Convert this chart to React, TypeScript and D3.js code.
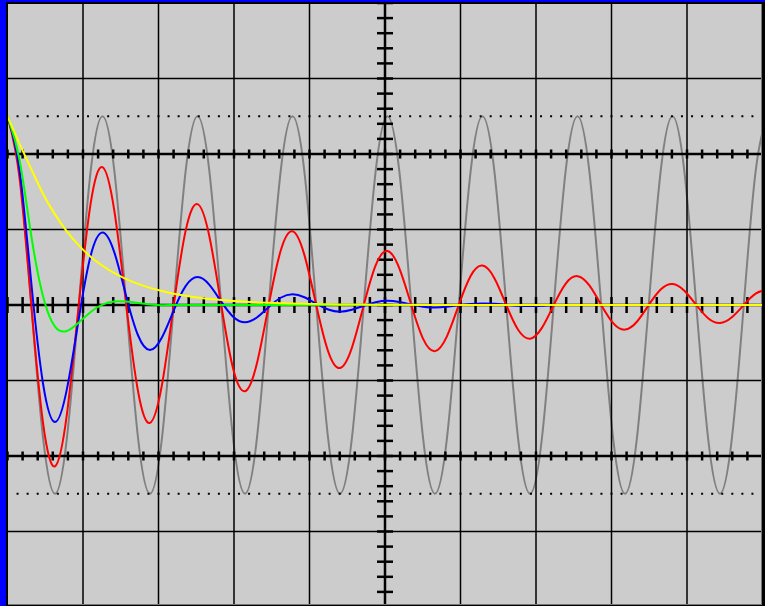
import React from 'react'
import * as d3 from 'd3'

// sample instants in screen divisions (one every eighth of the undamped period)
const times = [
  0, 0.157, 0.315, 0.472, 0.629, 0.786, 0.944, 1.101, 1.258, 1.416, 1.573, 1.73, 1.887, 2.045, 2.202, 2.359,
  2.517, 2.674, 2.831, 2.988, 3.146, 3.303, 3.46, 3.618, 3.775, 3.932, 4.089, 4.247, 4.404, 4.561, 4.719, 4.876,
  5.033, 5.19, 5.348, 5.505, 5.662, 5.82, 5.977, 6.134, 6.291, 6.449, 6.606, 6.763, 6.921, 7.078, 7.235, 7.392,
  7.55, 7.707, 7.864, 8.022, 8.179, 8.336, 8.493, 8.651, 8.808, 8.965, 9.123, 9.28, 9.437, 9.594, 9.752, 9.909,
  10.066
]

// trace values in vertical divisions
const undamped = [
  2.5, 1.77, 0, -1.77, -2.5, -1.77, 0, 1.77, 2.5, 1.77, 0, -1.77, -2.5, -1.77, 0, 1.77,
  2.5, 1.77, 0, -1.77, -2.5, -1.77, 0, 1.77, 2.5, 1.77, 0, -1.77, -2.5, -1.77, 0, 1.77,
  2.5, 1.77, 0, -1.77, -2.5, -1.77, 0, 1.77, 2.5, 1.77, 0, -1.77, -2.5, -1.77, 0, 1.77,
  2.5, 1.77, 0, -1.77, -2.5, -1.77, 0, 1.77, 2.5, 1.77, 0, -1.77, -2.5, -1.77, 0, 1.77,
  2.5
]
const lightDamping = [
  2.5, 1.7, 0, -1.572, -2.137, -1.453, 0, 1.343, 1.827, 1.242, 0, -1.149, -1.562, -1.062, 0, 0.982,
  1.336, 0.908, 0, -0.84, -1.142, -0.776, 0, 0.718, 0.977, 0.664, 0, -0.614, -0.835, -0.568, 0, 0.525,
  0.714, 0.486, 0, -0.449, -0.611, -0.415, 0, 0.384, 0.522, 0.355, 0, -0.328, -0.446, -0.303, 0, 0.281,
  0.382, 0.259, 0, -0.24, -0.326, -0.222, 0, 0.205, 0.279, 0.189, 0, -0.175, -0.239, -0.162, 0, 0.15,
  0.204
]
const mediumDamping = [
  2.5, 1.804, 0.295, -1.05, -1.55, -1.118, -0.183, 0.651, 0.961, 0.694, 0.114, -0.404, -0.596, -0.43, -0.07, 0.25,
  0.37, 0.267, 0.044, -0.155, -0.229, -0.165, -0.027, 0.096, 0.142, 0.103, 0.017, -0.06, -0.088, -0.064, -0.01, 0.037,
  0.055, 0.039, 0.006, -0.023, -0.034, -0.024, -0.004, 0.014, 0.021, 0.015, 0.002, -0.009, -0.013, -0.009, 0, 0,
  0, 0, 0, 0, 0, 0, 0, 0, 0, 0, 0, 0, 0, 0, 0, 0,
  0
]
const heavyDamping = [
  2.5, 1.934, 0.917, 0.11, -0.286, -0.344, -0.232, -0.092, 0.006, 0.047, 0.045, 0.027, 0.008, -0.003, 0, 0,
  0, 0, 0, 0, 0, 0, 0, 0, 0, 0, 0, 0, 0, 0, 0, 0,
  0, 0, 0, 0, 0, 0, 0, 0, 0, 0, 0, 0, 0, 0, 0, 0,
  0, 0, 0, 0, 0, 0, 0, 0, 0, 0, 0, 0, 0, 0, 0, 0,
  0
]
const overDamped = [
  2.5, 2.14, 1.8, 1.47, 1.2, 0.975, 0.79, 0.64, 0.52, 0.422, 0.343, 0.279, 0.227, 0.185, 0.15, 0.122,
  0.099, 0.081, 0.066, 0.053, 0.043, 0.035, 0.029, 0.023, 0.019, 0.015, 0.012, 0.01, 0.008, 0.007, 0.005, 0.004,
  0.004, 0.003, 0.002, 0.001, 0, 0, 0, 0, 0, 0, 0, 0, 0, 0, 0, 0,
  0, 0, 0, 0, 0, 0, 0, 0, 0, 0, 0, 0, 0, 0, 0, 0,
  0
]

const traces = [
  { values: undamped, color: '#808080' },
  { values: lightDamping, color: '#ff0000' },
  { values: mediumDamping, color: '#0000ff' },
  { values: heavyDamping, color: '#00ff00' },
  { values: overDamped, color: '#ffff00' }
]

const W = 765
const H = 606

export default function App() {
  const x = d3.scaleLinear().domain([0, 10]).range([7.5, 762.5])
  const y = d3.scaleLinear().domain([-4, 4]).range([607, 3])

  const line = d3
    .line<number>()
    .x((_, i) => x(times[i]))
    .y((d) => y(d))
    .curve(d3.curveNatural)

  const vGrid = d3.range(1, 10)
  const hGrid = d3.range(-3, 4)
  const xTicks = d3.range(0, 50.5).map((i) => i * 0.2)
  const yTicks = d3.range(0, 40.5).map((i) => -4 + i * 0.2)
  const dots = d3.range(1, 75).map((i) => i * (10 / 75))

  const plot = { x0: 8, y0: 4, x1: 762, y1: 605 }

  const trace = (t) => (
    <path key={t.color} d={line(t.values)} fill="none" stroke={t.color} strokeWidth={2} />
  )

  return (
    <div style={{ position: 'absolute', left: 0, top: 0 }}>
      <svg width={W} height={H} style={{ display: 'block' }}>
        <defs>
          <clipPath id="plot">
            <rect x={plot.x0} y={plot.y0} width={plot.x1 - plot.x0} height={plot.y1 - plot.y0} />
          </clipPath>
        </defs>
        <rect x={0} y={0} width={W} height={H} fill="#000" />
        <rect x={0} y={0} width={W} height={2} fill="#0000ff" />
        <rect x={0} y={0} width={6} height={H} fill="#0000ff" />
        <rect x={plot.x0} y={plot.y0} width={plot.x1 - plot.x0} height={plot.y1 - plot.y0} fill="#cccccc" />
        <g clipPath="url(#plot)">
          {trace(traces[0])}
          {vGrid.map((v) => (
            <line key={'v' + v} x1={x(v)} x2={x(v)} y1={y(-4)} y2={y(4)} stroke="#000" strokeWidth={1.5} />
          ))}
          {hGrid.map((v) => (
            <line key={'h' + v} x1={x(0)} x2={x(10)} y1={y(v)} y2={y(v)} stroke="#000" strokeWidth={1.5} />
          ))}
          {[-2, 0, 2].map((v) => (
            <g key={'th' + v}>
              <line x1={x(0)} x2={x(10)} y1={y(v)} y2={y(v)} stroke="#000" strokeWidth={2.5} />
              {xTicks.map((t) => (
                <line
                  key={t}
                  x1={x(t)}
                  x2={x(t)}
                  y1={y(v) - (v === 0 ? 8 : 4.5)}
                  y2={y(v) + (v === 0 ? 8 : 4.5)}
                  stroke="#000"
                  strokeWidth={2.5}
                />
              ))}
            </g>
          ))}
          <line x1={x(5)} x2={x(5)} y1={y(-4)} y2={y(4)} stroke="#000" strokeWidth={2.5} />
          {yTicks.map((t) => (
            <line key={'yt' + t} x1={x(5) - 8} x2={x(5) + 8} y1={y(t)} y2={y(t)} stroke="#000" strokeWidth={2.5} />
          ))}
          {[-2.5, 2.5].map((v) =>
            dots.map((d) => <rect key={v + '_' + d} x={x(d) - 1} y={y(v) - 1} width={2} height={2} fill="#000" />)
          )}
          <line x1={761.5} x2={761.5} y1={plot.y0} y2={plot.y1} stroke="#777" strokeWidth={1} />
          <line x1={plot.x0} x2={plot.x1} y1={604.5} y2={604.5} stroke="#777" strokeWidth={1} />
          {traces.slice(1).map(trace)}
        </g>
      </svg>
    </div>
  )
}
